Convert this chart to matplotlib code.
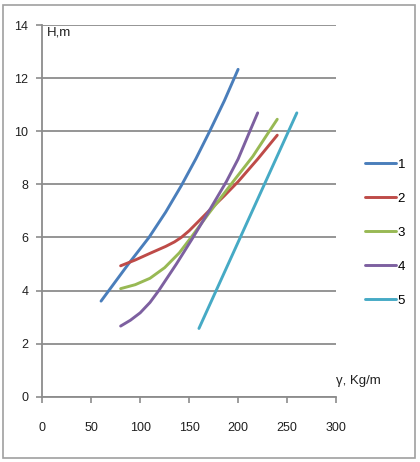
import matplotlib
matplotlib.use("Agg")
import matplotlib.pyplot as plt
from matplotlib.patches import Rectangle

plt.rcParams['font.family'] = ['Liberation Sans', 'DejaVu Sans']

# curve data (gamma, H)
x1 = [60, 68, 88, 109, 126, 142, 157, 171, 186, 200]
y1 = [3.6, 4.0, 5.0, 6.0, 6.95, 7.95, 8.97, 10.0, 11.15, 12.33]

x2 = [80, 95, 110, 126, 135, 142, 150, 160, 171, 186, 200, 220, 240]
y2 = [4.93, 5.15, 5.4, 5.66, 5.83, 6.0, 6.25, 6.62, 7.03, 7.57, 8.1, 8.95, 9.85]

x3 = [80, 95, 110, 125, 140, 152, 171, 197, 215, 231, 240]
y3 = [4.07, 4.22, 4.46, 4.86, 5.42, 6.0, 6.95, 8.2, 9.05, 9.95, 10.45]

x4 = [80, 90, 100, 110, 119, 137, 154, 172, 188, 200, 212, 220]
y4 = [2.66, 2.88, 3.16, 3.55, 4.0, 5.0, 6.0, 7.1, 8.1, 8.95, 10.0, 10.69]

x5 = [160, 260]
y5 = [2.57, 10.69]

series = [(x1, y1, "1"), (x2, y2, "2"), (x3, y3, "3"), (x4, y4, "4"), (x5, y5, "5")]
colors = ["#4A7EBB", "#BE4B48", "#98B954", "#7D60A0", "#46AAC5"]

x_ticks = [0, 50, 100, 150, 200, 250, 300]
y_ticks = [0, 2, 4, 6, 8, 10, 12, 14]

fig = plt.figure(figsize=(4.2, 4.62), dpi=100)
fig.patches.append(Rectangle((3 / 420, 4 / 462), 412 / 420, 453 / 462,
                             transform=fig.transFigure, fill=False,
                             edgecolor="#a0a0a0", linewidth=1.2))

ax = fig.add_axes([42.3 / 420, 1 - 396.7 / 462, 293.7 / 420, 371.7 / 462])

handles = []
for (xs, ys, lab), c in zip(series, colors):
    h, = ax.plot(xs, ys, color=c, linewidth=2.1, label=lab,
                 solid_capstyle="round", solid_joinstyle="round", zorder=3)
    handles.append(h)

ax.set_xlim(0, 300)
ax.set_ylim(0, 14)
ax.set_xticks(x_ticks)
ax.set_yticks(y_ticks)
ax.grid(axis="y", color="#8c8c8c", linewidth=1.3)
ax.set_axisbelow(True)
for s in ["top", "right"]:
    ax.spines[s].set_visible(False)
for s in ["left", "bottom"]:
    ax.spines[s].set_color("#8c8c8c")
    ax.spines[s].set_linewidth(1.3)
ax.tick_params(axis="both", direction="out", color="#8c8c8c", width=1.2,
               length=4, labelsize=9, labelcolor="#202020")
ax.tick_params(axis="x", pad=14)
ax.tick_params(axis="y", pad=6)

ax.text(5, 13.72, "H,m", fontsize=9.5, va="center", ha="left", color="#202020")
ax.text(300, 0.6, "γ, Kg/m", fontsize=9.5, va="center", ha="left", color="#202020",
        clip_on=False)

fig.legend(handles=handles, loc="upper left", bbox_to_anchor=(360 / 420, 1 - 153 / 462),
           frameon=False, fontsize=9.5, handlelength=2.3, handletextpad=0.15,
           labelspacing=1.65, borderaxespad=0)

fig.savefig("out.png", dpi=100)
